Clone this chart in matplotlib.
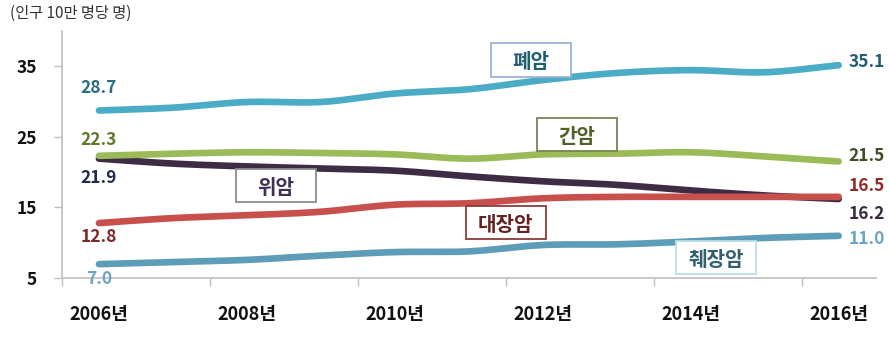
import numpy as np
import matplotlib
matplotlib.use("Agg")
import matplotlib.pyplot as plt
from matplotlib.patches import Rectangle
from matplotlib.ticker import FixedLocator

plt.rcParams['font.family'] = ['Noto Sans CJK KR', 'DejaVu Sans']

years = ["2006년", "2007년", "2008년", "2009년", "2010년", "2011년",
         "2012년", "2013년", "2014년", "2015년", "2016년"]

lung = [28.7, 29.1, 29.9, 29.9, 31.1, 31.7, 33.0, 34.0, 34.4, 34.1, 35.1]
liver = [22.3, 22.6, 22.8, 22.7, 22.5, 21.9, 22.5, 22.6, 22.8, 22.2, 21.5]
stomach = [21.9, 21.2, 20.8, 20.5, 20.2, 19.4, 18.7, 18.2, 17.4, 16.7, 16.2]
colorectal = [12.8, 13.5, 13.9, 14.4, 15.4, 15.6, 16.3, 16.5, 16.5, 16.5, 16.5]
pancreas = [7.0, 7.3, 7.6, 8.2, 8.7, 8.8, 9.7, 9.8, 10.2, 10.7, 11.0]

y_ticks = [5, 15, 25, 35]


def smooth(xs, ys, n=24):
    """Catmull-Rom curve through the points, like a spreadsheet 'smoothed line'."""
    xs = np.asarray(xs, float)
    ys = np.asarray(ys, float)
    px = np.concatenate([[2 * xs[0] - xs[1]], xs, [2 * xs[-1] - xs[-2]]])
    py = np.concatenate([[2 * ys[0] - ys[1]], ys, [2 * ys[-1] - ys[-2]]])
    outx, outy = [], []
    t = np.linspace(0, 1, n, endpoint=False)
    for i in range(1, len(px) - 2):
        for arr, out in ((px, outx), (py, outy)):
            p0, p1, p2, p3 = arr[i - 1], arr[i], arr[i + 1], arr[i + 2]
            out.extend(0.5 * ((2 * p1) + (-p0 + p2) * t
                              + (2 * p0 - 5 * p1 + 4 * p2 - p3) * t ** 2
                              + (-p0 + 3 * p1 - 3 * p2 + p3) * t ** 3))
    outx.append(xs[-1])
    outy.append(ys[-1])
    return np.array(outx), np.array(outy)


fig = plt.figure(figsize=(8.89, 3.49), dpi=100)
ax = fig.add_axes([0.0697, 0.2026, 0.9153, 0.710])

x = np.arange(len(years))

series = [
    # values, line colour, start label colour, end label colour, start offset, end offset
    (stomach, "#3E2C45", "#1F2D4A", "#3A2A40", -19, -15),
    (colorectal, "#C8504C", "#7A2A28", "#8E2C2A", -14, 11),
    (liver, "#9BBB59", "#5F7A2A", "#3E5021", 16, 5),
    (lung, "#4BACC6", "#2A6E84", "#215E73", 23, 3),
    (pancreas, "#5E9DB8", "#6FA3C0", "#6FA3C0", -15, -3),
]

for vals, col, c_start, c_end, off_s, off_e in series:
    sx, sy = smooth(x, vals)
    ax.plot(sx, sy, color=col, lw=4.8, solid_capstyle="round", zorder=3)
    ax.annotate(f"{vals[0]:.1f}", (x[0], vals[0]), xytext=(0, off_s),
                textcoords="offset pixels", ha="center", va="center",
                fontsize=12.5, fontweight="bold", color=c_start, zorder=5)
    ax.annotate(f"{vals[-1]:.1f}", (x[-1], vals[-1]), xytext=(10, off_e),
                textcoords="offset pixels", ha="left", va="center",
                fontsize=12.5, fontweight="bold", color=c_end, zorder=5)

# Boxed series names (fixed-size boxes)
box_w, box_h = 1.08, 4.75
names = [
    ("폐암", 5.84, 35.85, "#215E73", "#9DB3D3"),
    ("간암", 6.46, 25.3, "#4F6228", "#7A8450"),
    ("위암", 2.39, 18.1, "#3F3151", "#8C8C8C"),
    ("대장암", 5.50, 12.9, "#632523", "#8B3A3A"),
    ("췌장암", 8.34, 7.96, "#31606F", "#B7DEE8"),
]
for txt, xp, yp, tc, ec in names:
    ax.add_patch(Rectangle((xp - box_w / 2, yp - box_h / 2), box_w, box_h,
                           fc="white", ec=ec, lw=1.3, zorder=6))
    ax.annotate(txt, (xp, yp), xytext=(0, -2), textcoords="offset pixels",
                ha="center", va="center", fontsize=14.5,
                fontweight="bold", color=tc, zorder=7)

ax.set_xlim(-0.5, 10.5)
ax.set_ylim(5, 40)

ax.set_xticks(x[::2])
ax.set_xticklabels(years[::2])
ax.xaxis.set_minor_locator(FixedLocator([-0.5, 1.5, 3.5, 5.5, 7.5, 9.5]))
ax.tick_params(axis="x", which="major", length=0, pad=19,
               labelsize=13, labelcolor="#111111")
ax.tick_params(axis="x", which="minor", length=6, width=1, color="#BFBFBF",
               direction="out")
for lab in ax.get_xticklabels():
    lab.set_fontweight("bold")

ax.set_yticks(y_ticks)
ax.tick_params(axis="y", length=6, width=1, color="#BFBFBF", pad=12,
               labelsize=12.5, labelcolor="#111111")
for lab in ax.get_yticklabels():
    lab.set_fontweight("bold")

for side in ("top", "right"):
    ax.spines[side].set_visible(False)
for side in ("left", "bottom"):
    ax.spines[side].set_color("#BFBFBF")
    ax.spines[side].set_linewidth(1.2)

fig.text(0.011, 0.962, "(인구 10만 명당 명)", ha="left", va="center",
         fontsize=11, color="#333333")

fig.savefig("out.png", dpi=100, facecolor="white")
